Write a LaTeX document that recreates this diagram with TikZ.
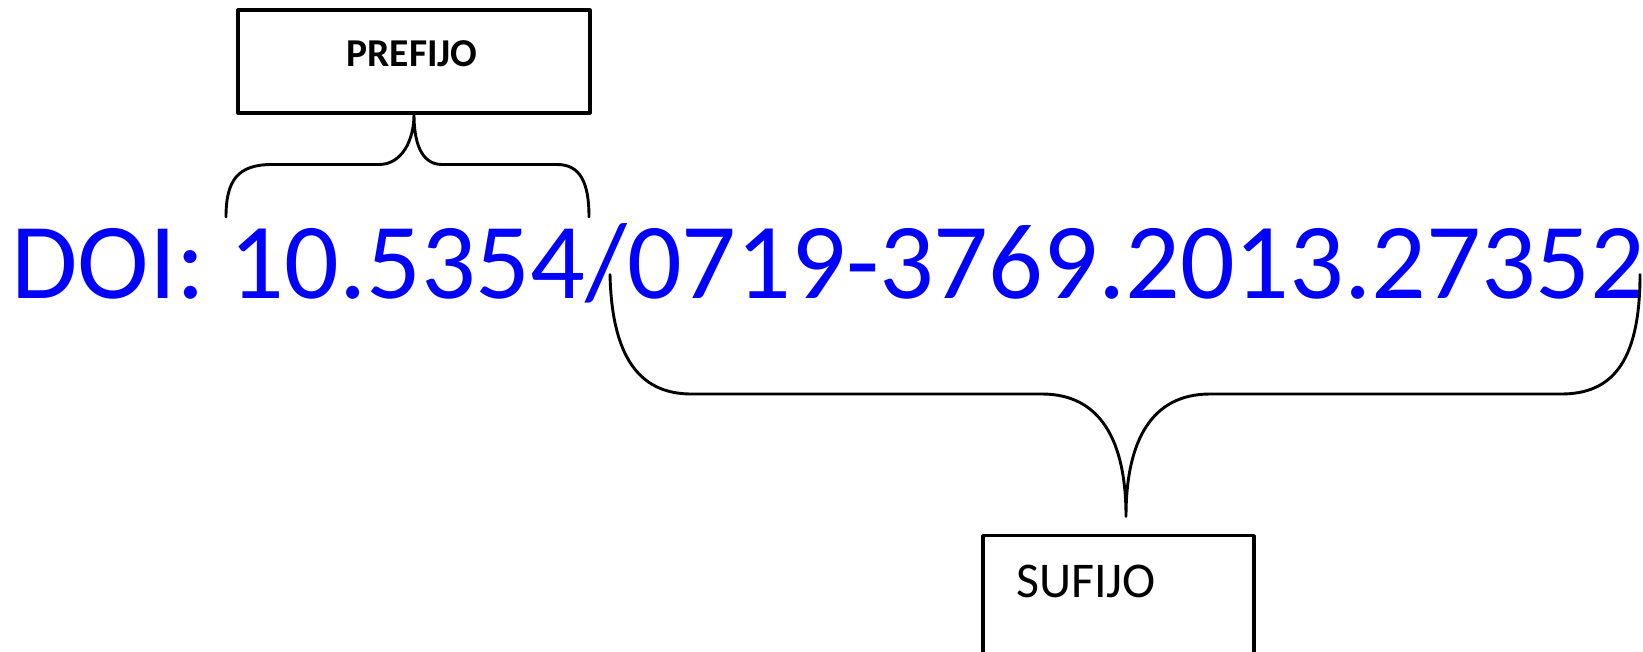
\documentclass[tikz,border=0pt]{standalone}
\usepackage{fontspec}
\setmainfont{Carlito}
\definecolor{doiblue}{RGB}{0,0,255}
\begin{document}
\begin{tikzpicture}[x=1pt,y=-1pt,line join=round,
  boxstyle/.style={draw=black,line width=3.2pt,inner sep=0pt},
  bracestyle/.style={draw=black,line width=2.9pt,line cap=round}]
\useasboundingbox[fill=white] (0,0) rectangle (1643,651);
% boxes
\node[boxstyle,minimum width=352pt,minimum height=103pt] (pbox) at (414,61.5) {};
\node[inner sep=0pt,font=\bfseries\fontsize{39.5}{42}\selectfont] (ptext) at (412,54) {PREFIJO};
\node[boxstyle,minimum width=271pt,minimum height=140pt,anchor=north] (sbox) at (1118.5,534) {};
\node[inner sep=0pt,anchor=west,font=\fontsize{50}{54}\selectfont] (stext) at (1016,581.5) {SUFIJO};
% DOI text
\node[inner sep=0pt,anchor=base west,text=doiblue,font=\fontsize{108}{120}\selectfont] (doi) at (11,298) {DOI: 10.5354/0719-3769.2013.27352};
% brace tips
\coordinate (ptip) at (pbox.south);
\coordinate (stip) at (1126,516.5);
% upper brace
\draw[bracestyle] (226,217) .. controls (226,180) and (238,164.5) .. (272,164.5)
  -- (379,164.5) .. controls (402,164.5) and (ptip |- 0,140) .. (ptip)
  .. controls (ptip |- 0,140) and (420,164.5) .. (442,164.5)
  -- (557,164.5) .. controls (580,164.5) and (589,182) .. (589,217);
% lower brace
\draw[bracestyle] (610,274.5) .. controls (612,365) and (645,394) .. (691.5,394)
  -- (1042,394) .. controls (1100,394) and (stip |- 0,440) .. (stip)
  .. controls (stip |- 0,440) and (1152,394) .. (1210,394)
  -- (1561,394) .. controls (1610,394) and (1640,365) .. (1640,274.5);
\end{tikzpicture}
\end{document}
